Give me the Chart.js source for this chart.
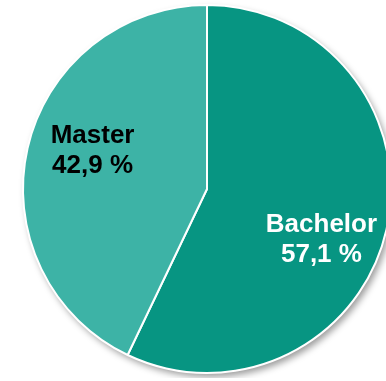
<!DOCTYPE html>
<html lang="de">
<head>
  <meta charset="UTF-8">
  <title>Bachelor / Master</title>
  <style>
    html, body { margin: 0; padding: 0; background: #fff; overflow: hidden; }
    #wrap { position: absolute; left: 0; top: 0; width: 386px; height: 381px; overflow: hidden; }
    canvas { display: block; }
  </style>
</head>
<body>
  <div id="wrap"><canvas id="chart" width="414" height="378"></canvas></div>

  <script src="https://cdn.jsdelivr.net/npm/chart.js"></script>
  <script>
    const labels = ['Bachelor', 'Master'];
    const values = [57.1, 42.9];
    const colors = ['#079582', '#3db3a6'];
    const textColors = ['#ffffff', '#000000'];

    // schatten unter dem kreis
    const shadow = {
      id: 'shadow',
      beforeDatasetsDraw(chart) {
        const arc = chart.getDatasetMeta(0).data[0];
        if (!arc) return;
        const ctx = chart.ctx;
        ctx.save();
        ctx.shadowColor = 'rgba(0,0,0,0.4)';
        ctx.shadowBlur = 7;
        ctx.shadowOffsetX = 3;
        ctx.shadowOffsetY = 4;
        ctx.fillStyle = '#ffffff';
        ctx.beginPath();
        ctx.arc(arc.x, arc.y, arc.outerRadius, 0, Math.PI * 2);
        ctx.fill();
        ctx.restore();
      }
    };

    // beschriftung in den segmenten
    const sliceLabels = {
      id: 'sliceLabels',
      afterDatasetsDraw(chart, args, opts) {
        const ctx = chart.ctx;
        chart.getDatasetMeta(0).data.forEach((arc, i) => {
          const mid = (arc.startAngle + arc.endAngle) / 2;
          const r = arc.outerRadius * opts.radius;
          const off = opts.offsets[i];
          const x = arc.x + Math.cos(mid) * r + off[0];
          const y = arc.y + Math.sin(mid) * r + off[1];
          ctx.save();
          ctx.font = opts.font;
          ctx.fillStyle = textColors[i];
          ctx.textAlign = 'center';
          ctx.textBaseline = 'middle';
          ctx.fillText(labels[i], x, y - opts.lineGap / 2);
          ctx.fillText(values[i].toFixed(1).replace('.', ',') + ' %', x, y + opts.lineGap / 2);
          ctx.restore();
        });
      }
    };

    new Chart(document.getElementById('chart'), {
      type: 'pie',
      data: {
        labels: labels,
        datasets: [{
          data: values,
          backgroundColor: colors,
          borderColor: '#ffffff',
          borderWidth: 2
        }]
      },
      options: {
        responsive: false,
        animation: false,
        layout: { padding: { top: 4, bottom: 4, left: 0, right: 0 } },
        plugins: {
          legend: { display: false },
          tooltip: { enabled: false },
          sliceLabels: {
            radius: 0.66,
            offsets: [[-4, 24], [4, -11]],
            lineGap: 30,
            font: 'bold 26px "Liberation Sans", Arial, sans-serif'
          }
        }
      },
      plugins: [shadow, sliceLabels]
    });
  </script>
</body>
</html>
